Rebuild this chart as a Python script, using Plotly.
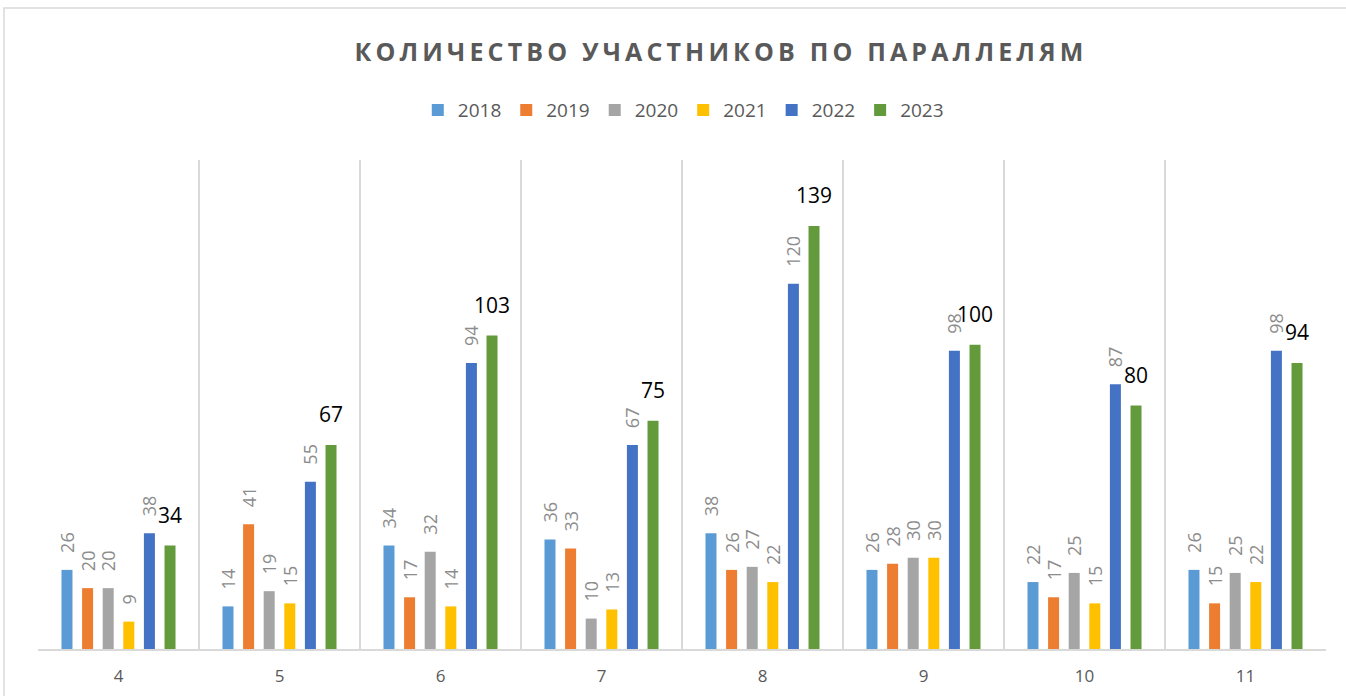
import plotly.graph_objects as go

categories = ["4", "5", "6", "7", "8", "9", "10", "11"]
years = ["2018", "2019", "2020", "2021", "2022", "2023"]
v2018 = [26, 14, 34, 36, 38, 26, 22, 26]
v2019 = [20, 41, 17, 33, 26, 28, 17, 15]
v2020 = [20, 19, 32, 10, 27, 30, 25, 25]
v2021 = [9, 15, 14, 13, 22, 30, 15, 22]
v2022 = [38, 55, 94, 67, 120, 98, 87, 98]
v2023 = [34, 67, 103, 75, 139, 100, 80, 94]
series = [v2018, v2019, v2020, v2021, v2022, v2023]
colors = ["#5B9BD5", "#ED7D31", "#A5A5A5", "#FFC000", "#4472C4", "#629A3C"]

title_text = "КОЛИЧЕСТВО УЧАСТНИКОВ ПО ПАРАЛЛЕЛЯМ"
LABEL_PAD = 4.6  # gap (in axis units) between bar top and its label
FONT = "Open Sans"

fig = go.Figure()
for yr, vals, col in zip(years, series, colors):
    fig.add_trace(go.Bar(
        name=yr, x=categories, y=vals, marker=dict(color=col, line=dict(width=0)),
        offsetgroup=yr, hoverinfo="skip",
    ))
for i, (yr, vals, col) in enumerate(zip(years, series, colors)):
    last = (i == len(years) - 1)
    fig.add_trace(go.Bar(
        name=yr + " labels", x=categories, y=[LABEL_PAD] * len(vals), base=vals,
        marker=dict(color="rgba(0,0,0,0)", line=dict(width=0)),
        offsetgroup=yr, showlegend=False,
        text=[str(v) for v in vals], textposition="outside",
        textangle=0 if last else -90, constraintext="none", cliponaxis=False,
        textfont=dict(family=FONT, size=21 if last else 18,
                      color="#000000" if last else "#8C8C8C"),
        hoverinfo="skip",
    ))

spaced_title = "\u2009".join(title_text)

fig.update_layout(
    width=1346, height=696,
    margin=dict(l=38, r=20, t=160, b=47, autoexpand=False),
    paper_bgcolor="white", plot_bgcolor="white",
    barmode="group", bargap=0.232, bargroupgap=0.466,
    font=dict(family=FONT, color="#595959"),
    title=dict(text=spaced_title, x=(719 - 38) / 1288, xref="paper", xanchor="center",
               y=1 - 52 / 696, yanchor="middle",
               font=dict(family=FONT, size=25, color="#595959", weight="bold")),
    legend=dict(orientation="h", x=0.501, xanchor="center", y=1.102, yanchor="middle",
                font=dict(family=FONT, size=19, color="#595959"),
                itemclick=False, traceorder="normal"),
    showlegend=True,
    xaxis=dict(type="category", showgrid=True, tickson="boundaries",
               gridcolor="#D9D9D9", gridwidth=1.5, automargin=False,
               showline=True, linecolor="#D9D9D9", linewidth=1.5,
               ticks="", ticklabelstandoff=11,
               tickfont=dict(family=FONT, size=17, color="#595959")),
    yaxis=dict(range=[0, 160.7], visible=False, showgrid=False, zeroline=False,
               automargin=False),
    shapes=[dict(type="rect", xref="paper", yref="paper",
                 x0=(4 - 38) / 1288, x1=1.2, y0=-0.5, y1=(649 - 8) / 489,
                 line=dict(color="#D9D9D9", width=1.5), layer="below")],
)

fig.write_html("out.html")
